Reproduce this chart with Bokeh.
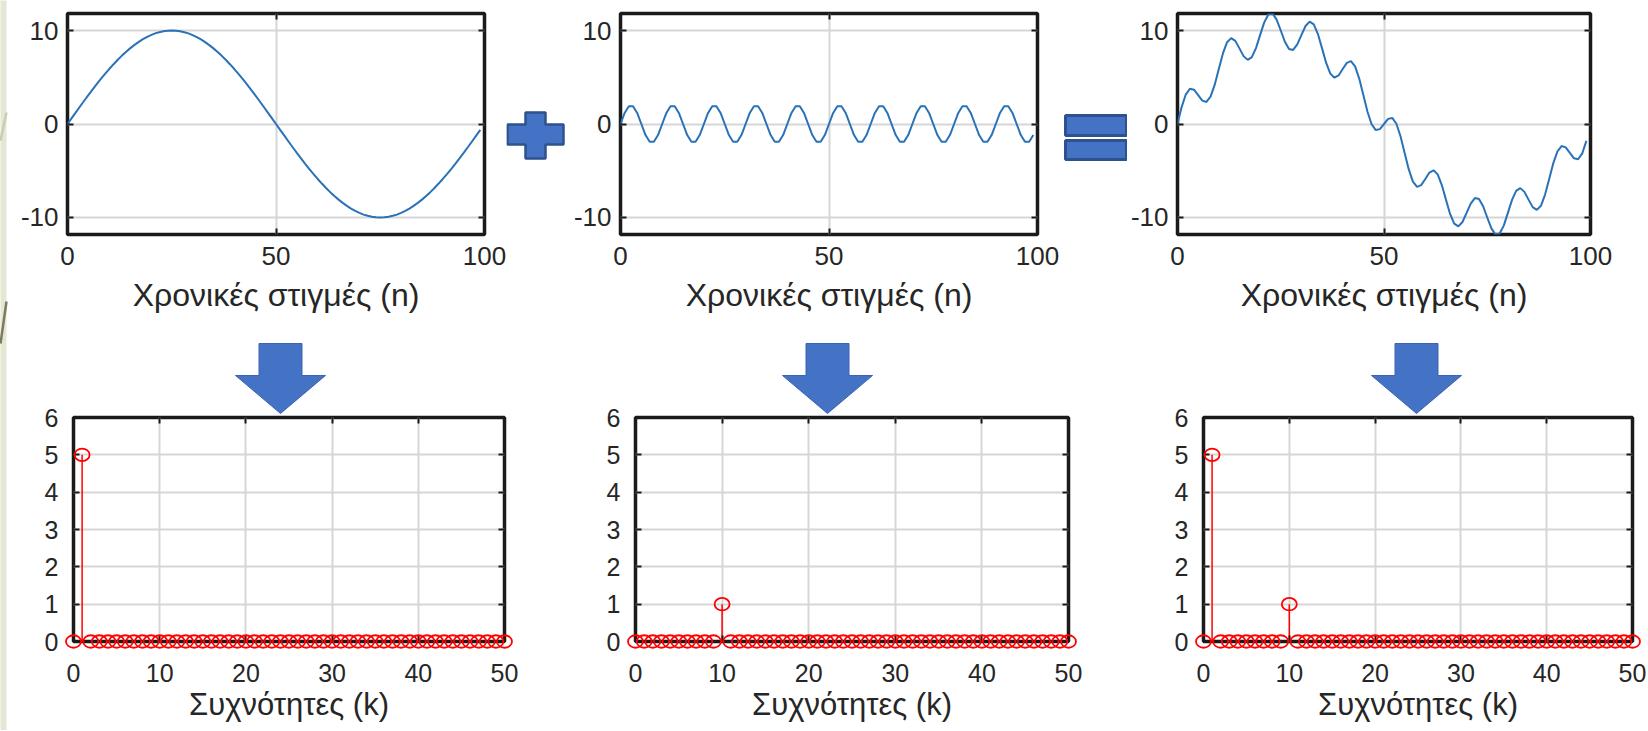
from bokeh.plotting import figure
from bokeh.layouts import row, column
from bokeh.models import Range1d, FixedTicker, LinearAxis
from bokeh.embed import file_html
from bokeh.resources import INLINE

# ---------------- data ----------------
n = list(range(100))
sig_low = [0.0, 0.63, 1.25, 1.87, 2.49, 3.09, 3.68, 4.26, 4.82, 5.36,
           5.88, 6.37, 6.85, 7.29, 7.71, 8.09, 8.44, 8.76, 9.05, 9.30,
           9.51, 9.69, 9.82, 9.92, 9.98, 10.0, 9.98, 9.92, 9.82, 9.69,
           9.51, 9.30, 9.05, 8.76, 8.44, 8.09, 7.71, 7.29, 6.85, 6.37,
           5.88, 5.36, 4.82, 4.26, 3.68, 3.09, 2.49, 1.87, 1.25, 0.63,
           0.0, -0.63, -1.25, -1.87, -2.49, -3.09, -3.68, -4.26, -4.82, -5.36,
           -5.88, -6.37, -6.85, -7.29, -7.71, -8.09, -8.44, -8.76, -9.05, -9.30,
           -9.51, -9.69, -9.82, -9.92, -9.98, -10.0, -9.98, -9.92, -9.82, -9.69,
           -9.51, -9.30, -9.05, -8.76, -8.44, -8.09, -7.71, -7.29, -6.85, -6.37,
           -5.88, -5.36, -4.82, -4.26, -3.68, -3.09, -2.49, -1.87, -1.25, -0.63]
sig_high = [0.0, 1.18, 1.9, 1.9, 1.18, 0.0, -1.18, -1.9, -1.9, -1.18,
            0.0, 1.18, 1.9, 1.9, 1.18, 0.0, -1.18, -1.9, -1.9, -1.18,
            0.0, 1.18, 1.9, 1.9, 1.18, 0.0, -1.18, -1.9, -1.9, -1.18,
            0.0, 1.18, 1.9, 1.9, 1.18, 0.0, -1.18, -1.9, -1.9, -1.18,
            0.0, 1.18, 1.9, 1.9, 1.18, 0.0, -1.18, -1.9, -1.9, -1.18,
            0.0, 1.18, 1.9, 1.9, 1.18, 0.0, -1.18, -1.9, -1.9, -1.18,
            0.0, 1.18, 1.9, 1.9, 1.18, 0.0, -1.18, -1.9, -1.9, -1.18,
            0.0, 1.18, 1.9, 1.9, 1.18, 0.0, -1.18, -1.9, -1.9, -1.18,
            0.0, 1.18, 1.9, 1.9, 1.18, 0.0, -1.18, -1.9, -1.9, -1.18,
            0.0, 1.18, 1.9, 1.9, 1.18, 0.0, -1.18, -1.9, -1.9, -1.18]
sig_sum = [0.0, 1.81, 3.15, 3.77, 3.67, 3.09, 2.50, 2.36, 2.92, 4.18,
           5.88, 7.55, 8.75, 9.19, 8.89, 8.09, 7.26, 6.86, 7.15, 8.12,
           9.51, 10.87, 11.72, 11.82, 11.16, 10.0, 8.80, 8.02, 7.92, 8.51,
           9.51, 10.48, 10.95, 10.66, 9.62, 8.09, 6.53, 5.39, 4.95, 5.19,
           5.88, 6.54, 6.72, 6.16, 4.86, 3.09, 1.31, -0.03, -0.65, -0.55,
           0.0, 0.55, 0.65, 0.03, -1.31, -3.09, -4.86, -6.16, -6.72, -6.54,
           -5.88, -5.19, -4.95, -5.39, -6.53, -8.09, -9.62, -10.66, -10.95, -10.48,
           -9.51, -8.51, -7.92, -8.02, -8.80, -10.0, -11.16, -11.82, -11.72, -10.87,
           -9.51, -8.12, -7.15, -6.86, -7.26, -8.09, -8.89, -9.19, -8.75, -7.55,
           -5.88, -4.18, -2.92, -2.36, -2.50, -3.09, -3.67, -3.77, -3.15, -1.81]

k = list(range(51))
mag_low = [0, 5, 0, 0, 0, 0, 0, 0, 0, 0,
           0, 0, 0, 0, 0, 0, 0, 0, 0, 0,
           0, 0, 0, 0, 0, 0, 0, 0, 0, 0,
           0, 0, 0, 0, 0, 0, 0, 0, 0, 0,
           0, 0, 0, 0, 0, 0, 0, 0, 0, 0, 0]
mag_high = [0, 0, 0, 0, 0, 0, 0, 0, 0, 0,
            1, 0, 0, 0, 0, 0, 0, 0, 0, 0,
            0, 0, 0, 0, 0, 0, 0, 0, 0, 0,
            0, 0, 0, 0, 0, 0, 0, 0, 0, 0,
            0, 0, 0, 0, 0, 0, 0, 0, 0, 0, 0]
mag_sum = [0, 5, 0, 0, 0, 0, 0, 0, 0, 0,
           1, 0, 0, 0, 0, 0, 0, 0, 0, 0,
           0, 0, 0, 0, 0, 0, 0, 0, 0, 0,
           0, 0, 0, 0, 0, 0, 0, 0, 0, 0,
           0, 0, 0, 0, 0, 0, 0, 0, 0, 0, 0]

time_ticks = [0, 50, 100]
amp_ticks = [-10, 0, 10]
amp_tick_labels = {-10: "-10", 0: "0", 10: "10"}
freq_ticks = [0, 10, 20, 30, 40, 50]
mag_ticks = [0, 1, 2, 3, 4, 5, 6]
time_label = "Χρονικές στιγμές (n)"
freq_label = "Συχνότητες (k)"

# ---------------- styling ----------------
FONT = "Liberation Sans"
TXT = "#262626"
FRAME = "#1a1a1a"
GRID = "#d6d6d6"
LINE = "#2a72b8"
BLUE = "#4472c4"
BLUE_DARK = "#2f528f"
STRIP = "#e4e8d2"

# frame geometry on the page (pixels)
T_TOP, T_BOT = 13, 234
B_TOP, B_BOT = 417, 641


def style(p, xt, yt, xlabel, tick_fs, lab_fs, xstand, ystand, lstand):
    p.outline_line_color = FRAME
    p.outline_line_width = 3.5
    p.background_fill_color = "white"
    p.border_fill_color = "white"
    xtk = FixedTicker(ticks=xt)
    ytk = FixedTicker(ticks=yt)
    p.xaxis.ticker = xtk
    p.yaxis.ticker = ytk
    p.xgrid.ticker = xtk
    p.ygrid.ticker = ytk
    p.grid.grid_line_color = GRID
    p.grid.grid_line_width = 2
    for ax in (p.xaxis, p.yaxis):
        ax.axis_line_color = None
        ax.major_tick_in = 6
        ax.major_tick_out = 0
        ax.major_tick_line_color = FRAME
        ax.major_tick_line_width = 2
        ax.minor_tick_line_color = None
        ax.major_label_text_font = FONT
        ax.major_label_text_font_size = tick_fs
        ax.major_label_text_color = TXT
    p.xaxis.major_label_standoff = xstand
    p.yaxis.major_label_standoff = ystand
    p.xaxis.axis_label = xlabel
    p.xaxis.axis_label_text_font = FONT
    p.xaxis.axis_label_text_font_size = lab_fs
    p.xaxis.axis_label_text_font_style = "normal"
    p.xaxis.axis_label_text_color = TXT
    p.xaxis.axis_label_standoff = lstand
    # box ticks on the top and right edges, without labels
    for loc, tk in (("above", xt), ("right", yt)):
        extra = LinearAxis(ticker=FixedTicker(ticks=tk), axis_line_color=None,
                           major_tick_in=6, major_tick_out=0,
                           major_tick_line_color=FRAME, major_tick_line_width=2,
                           minor_tick_line_color=None,
                           major_label_overrides={t: "" for t in tk},
                           major_label_text_font_size="1px",
                           major_label_standoff=0)
        p.add_layout(extra, loc)


def to_data(pxs, pys, fl, fr, ft, fb, xr, yr):
    xs = [xr[0] + (x - fl) / (fr - fl) * (xr[1] - xr[0]) for x in pxs]
    ys = [yr[0] + (fb - y) / (fb - ft) * (yr[1] - yr[0]) for y in pys]
    return xs, ys


def slide_strip(p, fl, fr, ft, fb, xr, yr):
    # beige slide edge on the far left of the page
    xs, ys = to_data([0, 6, 6, 0], [0, 0, 731, 731], fl, fr, ft, fb, xr, yr)
    p.patch(xs, ys, fill_color=STRIP, line_color=None, level="overlay")
    for (x0, y0, x1, y1, c) in ((0, 140, 6, 112, "#c9ccb6"),
                                (0, 343, 6, 301, "#7e7a64")):
        lx, ly = to_data([x0, x1], [y0, y1], fl, fr, ft, fb, xr, yr)
        p.line(lx, ly, line_color=c, line_width=2.5, level="overlay")


def time_plot(sig, width, left, right):
    p = figure(width=width, height=323, x_range=Range1d(0, 100),
               y_range=Range1d(-11.82, 11.82), toolbar_location=None,
               output_backend="svg", min_border_left=left,
               min_border_right=right, min_border_top=13, min_border_bottom=89)
    style(p, time_ticks, amp_ticks, time_label, "26px", "32px", 12, 9, 9)
    p.yaxis.major_label_overrides = amp_tick_labels
    p.line(n, sig, line_color=LINE, line_width=2)
    return p


def freq_plot(mag, width, left, right, frame_lr, arrow_tip):
    p = figure(width=width, height=407, x_range=Range1d(0, 50),
               y_range=Range1d(0, 6), toolbar_location=None,
               output_backend="svg", min_border_left=left,
               min_border_right=right, min_border_top=94, min_border_bottom=89)
    style(p, freq_ticks, mag_ticks, freq_label, "25px", "31px", 22, 15, 2)
    p.segment(x0=k, y0=[0] * len(k), x1=k, y1=mag, line_color="#ff0000",
              line_width=1.5)
    p.ellipse(x=k, y=mag, width=15, height=12.5, width_units="screen",
              height_units="screen", fill_color=None, line_color="#ff0000",
              line_width=1.8, level="overlay")
    # decorative down arrow above the frame (page pixels -> data units)
    fl, fr = frame_lr
    ax_ = [arrow_tip - 21.5, arrow_tip + 21.5, arrow_tip + 21.5,
           arrow_tip + 45, arrow_tip, arrow_tip - 45, arrow_tip - 21.5]
    ay_ = [343, 343, 375, 375, 413, 375, 375]
    xs, ys = to_data(ax_, ay_, fl, fr, B_TOP, B_BOT, (0, 50), (0, 6))
    p.patch(xs, ys, fill_color=BLUE, line_color="#3a64b4", line_width=1,
            level="overlay")
    return p


def deco_fig(width, x0, x1):
    # its frame is aligned with the neighbouring plots' frames (page y 13..234)
    d = figure(width=width, height=323, x_range=Range1d(x0, x1),
               y_range=Range1d(T_BOT, T_TOP), toolbar_location=None,
               output_backend="svg", x_axis_type=None, y_axis_type=None,
               min_border=0)
    d.outline_line_color = None
    d.grid.visible = False
    d.background_fill_color = "white"
    d.border_fill_color = "white"
    return d


# top row
t1 = time_plot(sig_low, 506, 67, 22)
slide_strip(t1, 67, 484, T_TOP, T_BOT, (0, 100), (-11.82, 11.82))
plus = deco_fig(62, 506, 568)
px = [525, 545, 545, 563, 563, 545, 545, 525, 525, 507, 507, 525]
py = [112, 112, 124, 124, 144, 144, 158, 158, 144, 144, 124, 124]
plus.patch(px, py, fill_color=BLUE, line_color=BLUE_DARK, line_width=2.5)
t2 = time_plot(sig_high, 491, 52, 22)
eq = deco_fig(68, 1059, 1127)
eq.quad(left=[1065, 1065], right=[1126, 1126], top=[115, 140],
        bottom=[135, 159], fill_color=BLUE, line_color=BLUE_DARK, line_width=3)
t3 = time_plot(sig_sum, 485, 47, 22)

# bottom row
b1 = freq_plot(mag_low, 526, 73, 22, (73, 504), 280)
slide_strip(b1, 73, 504, B_TOP, B_BOT, (0, 50), (0, 6))
b2 = freq_plot(mag_high, 572, 109, 30, (635, 1068), 827)
b3 = freq_plot(mag_sum, 548, 105, 14, (1203, 1632), 1416)

layout = column(row(t1, plus, t2, eq, t3), row(b1, b2, b3))

with open("out.html", "w") as f:
    f.write(file_html(layout, INLINE))
